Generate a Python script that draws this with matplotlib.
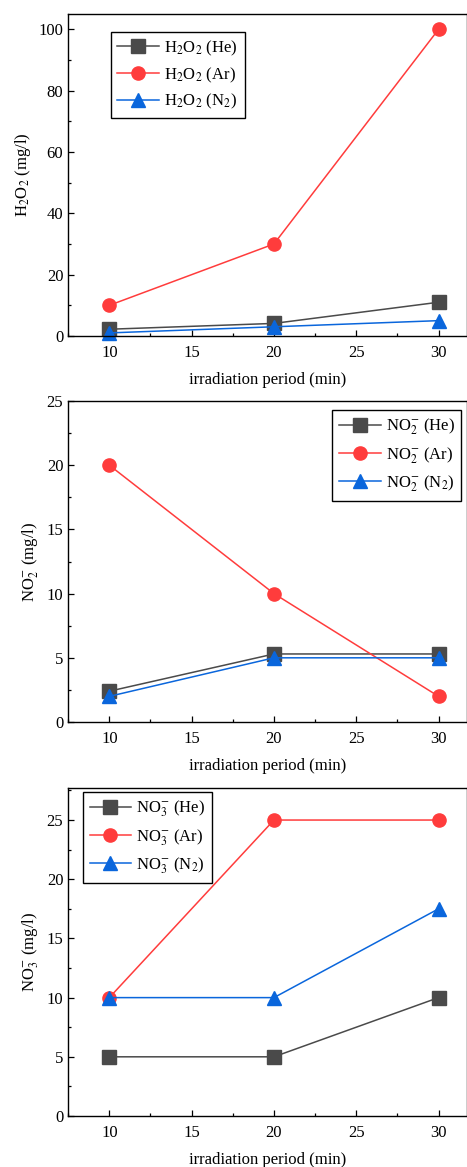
import matplotlib
matplotlib.use("Agg")
import matplotlib.pyplot as plt
from matplotlib.ticker import MultipleLocator, AutoMinorLocator

plt.rcParams['font.family'] = ['Liberation Serif', 'DejaVu Serif']
plt.rcParams['mathtext.fontset'] = 'stix'
plt.rcParams['font.size'] = 12

# irradiation period (min)
t = [10, 20, 30]

# H2O2 (mg/l)
h2o2_he = [2.2, 4.1, 11]
h2o2_ar = [10, 30, 100]
h2o2_n2 = [1, 3, 5]

# NO2- (mg/l)
no2_he = [2.4, 5.3, 5.3]
no2_ar = [20, 10, 2]
no2_n2 = [2, 5, 5]

# NO3- (mg/l)
no3_he = [5, 5, 10]
no3_ar = [10, 25, 25]
no3_n2 = [10, 10, 17.5]

gas_names = ['He', 'Ar', 'N$_2$']
colors = ['#4a4a4a', '#ff3c3c', '#0a66dc']
markers = ['s', 'o', '^']

panels = [
    dict(data=[h2o2_he, h2o2_ar, h2o2_n2], sp='H$_2$O$_2$', ylab='H$_2$O$_2$ (mg/l)',
         ylim=(0, 105), major=20, rect=[0.146, 0.7121, 0.853, 0.2759],
         loc='upper left', anchor=(0.107, 0.944)),
    dict(data=[no2_he, no2_ar, no2_n2], sp='NO$_2^{-}$', ylab='NO$_2^{-}$ (mg/l)',
         ylim=(0, 25), major=5, rect=[0.146, 0.3813, 0.853, 0.2751],
         loc='upper right', anchor=(0.987, 0.972)),
    dict(data=[no3_he, no3_ar, no3_n2], sp='NO$_3^{-}$', ylab='NO$_3^{-}$ (mg/l)',
         ylim=(0, 27.7), major=5, rect=[0.146, 0.0437, 0.853, 0.281],
         loc='upper left', anchor=(0.037, 0.988)),
]

fig = plt.figure(figsize=(4.67, 11.67), dpi=100)

for p in panels:
    ax = fig.add_axes(p['rect'])
    for vals, gas, c, m in zip(p['data'], gas_names, colors, markers):
        ax.plot(t, vals, color=c, marker=m, markersize=9.5 if m != '^' else 10.5,
                lw=1.1, label=p['sp'] + ' (' + gas + ')', clip_on=False)
    ax.set_xlim(7.5, 31.7)
    ax.set_ylim(*p['ylim'])
    ax.xaxis.set_major_locator(MultipleLocator(5))
    ax.xaxis.set_minor_locator(AutoMinorLocator(2))
    ax.yaxis.set_major_locator(MultipleLocator(p['major']))
    ax.yaxis.set_minor_locator(AutoMinorLocator(2))
    ax.tick_params(which='both', direction='in', top=False, right=False)
    ax.tick_params(which='major', length=4.5, width=0.9, labelsize=12)
    ax.tick_params(which='minor', length=2.5, width=0.9)
    ax.tick_params(axis='x', which='major', pad=6.5)
    for s in ax.spines.values():
        s.set_linewidth(1.0)
    ax.set_xlabel('irradiation period (min)', fontsize=12, labelpad=8)
    ax.set_ylabel(p['ylab'], fontsize=12, labelpad=4)
    leg = ax.legend(loc=p['loc'], bbox_to_anchor=p['anchor'], borderaxespad=0,
                    fancybox=False, edgecolor='black', framealpha=1,
                    handlelength=2.5, fontsize=12, labelspacing=0.45,
                    handletextpad=0.3, borderpad=0.4)
    leg.get_frame().set_linewidth(1.0)

fig.savefig('out.png', dpi=100)
